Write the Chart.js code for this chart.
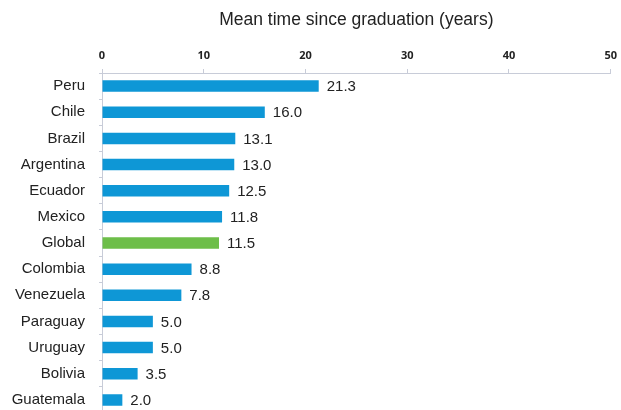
<!DOCTYPE html>
<html>
<head>
<meta charset="utf-8">
<script src="https://cdn.jsdelivr.net/npm/chart.js@4/dist/chart.umd.min.js"></script>
<style>
  html, body { margin: 0; padding: 0; background: #fff; overflow: hidden; }
  canvas { display: block; }
</style>
</head>
<body>
<canvas id="chart" width="624" height="436"></canvas>
<script>
// ------ Datos ------
const countries = ['Peru', 'Chile', 'Brazil', 'Argentina', 'Ecuador', 'Mexico', 'Global',
  'Colombia', 'Venezuela', 'Paraguay', 'Uruguay', 'Bolivia', 'Guatemala'];
const years = [21.3, 16.0, 13.1, 13.0, 12.5, 11.8, 11.5, 8.8, 7.8, 5.0, 5.0, 3.5, 2.0];
const xTicks = [0, 10, 20, 30, 40, 50];

const BLUE = '#0e97d6';
const GREEN = '#6dbe49';
const AXIS = '#c8ccd8';
const FONT = '"Liberation Sans", Arial, sans-serif';
const barColors = countries.map(c => c === 'Global' ? GREEN : BLUE);

// Valor escrito a la derecha de cada barra
const valueLabels = {
  id: 'valueLabels',
  afterDatasetsDraw(chart) {
    const { ctx } = chart;
    const meta = chart.getDatasetMeta(0);
    ctx.save();
    ctx.font = '15px ' + FONT;
    ctx.fillStyle = '#222';
    ctx.textAlign = 'left';
    ctx.textBaseline = 'middle';
    meta.data.forEach((bar, i) => {
      ctx.fillText(years[i].toFixed(1), bar.x + 8, bar.y + 1);
    });
    ctx.restore();
  }
};

new Chart(document.getElementById('chart'), {
  type: 'bar',
  data: {
    labels: countries,
    datasets: [{
      data: years,
      backgroundColor: barColors,
      borderWidth: 0,
      barPercentage: 0.44,
      categoryPercentage: 1
    }]
  },
  options: {
    indexAxis: 'y',
    animation: false,
    responsive: false,
    layout: { autoPadding: false, padding: { left: 0, right: 7, top: 0, bottom: 2 } },
    plugins: {
      legend: { display: false },
      tooltip: { enabled: false },
      title: {
        display: true,
        fullSize: false,
        text: 'Mean time since graduation (years)',
        color: '#222',
        font: { family: FONT, size: 17.5, weight: 'normal' },
        padding: { top: 10, bottom: 4 }
      }
    },
    scales: {
      x: {
        position: 'top',
        min: 0,
        max: 50,
        afterBuildTicks: s => { s.ticks = xTicks.map(v => ({ value: v })); },
        afterFit: s => { s.height = 38; },
        ticks: {
          color: '#222',
          padding: 7,
          font: { family: '"Open Sans", sans-serif', size: 11, weight: 'bold' }
        },
        grid: { drawOnChartArea: false, drawTicks: true, tickLength: 4, color: AXIS },
        border: { display: true, color: AXIS }
      },
      y: {
        afterFit: s => { s.width = 102; },
        ticks: {
          color: '#222',
          padding: 14,
          font: { family: FONT, size: 15 }
        },
        grid: { drawOnChartArea: false, drawTicks: true, tickLength: 3, offset: true, color: AXIS },
        border: { display: true, color: AXIS }
      }
    }
  },
  plugins: [valueLabels]
});
</script>
</body>
</html>
